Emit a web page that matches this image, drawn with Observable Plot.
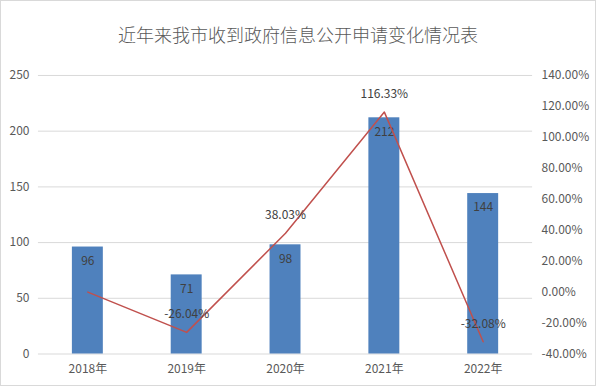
<!DOCTYPE html>
<html><head><meta charset="utf-8">
<script src="https://cdn.jsdelivr.net/npm/d3@7"></script>
<script src="https://cdn.jsdelivr.net/npm/@observablehq/plot@0.6"></script>
<style>
body{margin:0;background:#fff;}
#wrap{width:594px;height:384px;border:1px solid #d9d9d9;position:relative;overflow:hidden;font-family:"Noto Sans CJK SC","Microsoft YaHei",sans-serif;}
#title{position:absolute;top:20px;left:0;width:594px;text-align:center;font-size:18px;color:#595959;font-weight:300;}
#chart{position:absolute;top:54px;left:-1px;}
</style></head><body>
<div id="wrap"><div id="title">近年来我市收到政府信息公开申请变化情况表</div><div id="chart"></div></div>
<script>
const years = ["2018年","2019年","2020年","2021年","2022年"];
const counts = [96,71,98,212,144];
const rates = [0, -0.2604, 0.3803, 1.1633, -0.3208];
const rateLabels = ["", "-26.04%", "38.03%", "116.33%", "-32.08%"];
const leftTicks = [0,50,100,150,200,250];
const rightTicks = [-0.4,-0.2,0,0.2,0.4,0.6,0.8,1.0,1.2,1.4];

const rMin = -0.4, rMax = 1.4, yMax = 250;
const toLeft = p => (p - rMin) / (rMax - rMin) * yMax;

const bars = years.map((y,i)=>({year:y, count:counts[i]}));
const line = years.map((y,i)=>({year:y, v:toLeft(rates[i]), label:rateLabels[i]}));
const rt = rightTicks.map(p=>({v:toLeft(p), label:(p*100).toFixed(2)+"%"}));

const chart = Plot.plot({
  width:596, height:332,
  marginTop:20, marginBottom:33, marginLeft:38, marginRight:63,
  style:{fontFamily:"'Noto Sans CJK SC', sans-serif", fontSize:"12px", color:"#595959", background:"transparent"},
  x:{domain:years, paddingInner:0.69, paddingOuter:0.345, label:null},
  y:{domain:[0,yMax], label:null},
  marks:[
    Plot.ruleY(leftTicks, {stroke:"#d9d9d9", strokeWidth:1}),
    Plot.axisY({ticks:leftTicks, tickSize:0, tickPadding:9, label:null}),
    Plot.axisY(rt.map(d=>d.v), {anchor:"right", tickSize:0, tickPadding:9, label:null,
      tickFormat:(d,i)=>rt[i].label, textAnchor:"start"}),
    Plot.axisX({tickSize:0, tickPadding:11, label:null}),
    Plot.barY(bars, {x:"year", y:"count", fill:"#4f81bd"}),
    Plot.text(bars, {x:"year", y:"count", text:d=>String(d.count), dy:14, fill:"#404040", fontSize:12}),
    Plot.line(line, {x:"year", y:"v", stroke:"#c0504d", strokeWidth:1.5}),
    Plot.text(line, {x:"year", y:"v", text:"label", dy:-18, fill:"#404040", fontSize:12})
  ]
});
document.getElementById("chart").appendChild(chart);
</script>
</body></html>
